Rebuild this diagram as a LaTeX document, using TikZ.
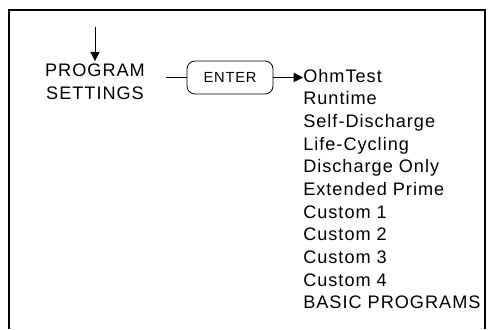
\documentclass[tikz,border=0pt]{standalone}
\usepackage{fontspec}
\setmainfont[LetterSpace=5.5]{Liberation Sans}
\usetikzlibrary{arrows.meta}
\begin{document}
\begin{tikzpicture}[x=0.75pt, y=-0.75pt, >={Triangle[length=7pt, width=7pt]}, font=\fontsize{13.6}{17.3}\selectfont]
\useasboundingbox (0, 0) rectangle (488, 329);
\draw [line width=1pt] (9, 329) -- (9, 10) -- (485, 10) -- (485, 329);
\coordinate (top) at (95, 27);
\node (prog) at (95, 82) [align=center, inner sep=2pt] {PROGRAM\\SETTINGS};
\node (enter) at (230, 77.5) [draw, rounded corners=6pt, minimum width=64.5pt, minimum height=24.75pt, line width=0.6pt, font=\fontsize{11}{13}\selectfont] {ENTER};
\node (ohm) at (303, 82) [anchor=base west, inner sep=0pt] {OhmTest};
\node (run) at (303, 104.7) [anchor=base west, inner sep=0pt] {Runtime};
\node (self) at (303, 127.4) [anchor=base west, inner sep=0pt] {Self-Discharge};
\node (life) at (303, 150) [anchor=base west, inner sep=0pt] {Life-Cycling};
\node (donly) at (303, 172.7) [anchor=base west, inner sep=0pt] {Discharge Only};
\node (prime) at (303, 195.4) [anchor=base west, inner sep=0pt] {Extended Prime};
\node (cust1) at (303, 218) [anchor=base west, inner sep=0pt] {Custom 1};
\node (cust2) at (303, 240.7) [anchor=base west, inner sep=0pt] {Custom 2};
\node (cust3) at (303, 263.4) [anchor=base west, inner sep=0pt] {Custom 3};
\node (cust4) at (303, 286) [anchor=base west, inner sep=0pt] {Custom 4};
\node (basic) at (303, 308.7) [anchor=base west, inner sep=0pt] {BASIC PROGRAMS};
\draw [->, line width=0.75pt] (top) -- (prog.north);
\draw [line width=0.6pt] (enter.west) -- ++(-21, 0);
\draw [->, line width=0.6pt] (enter.east) -- (ohm.west |- enter.east);
\end{tikzpicture}
\end{document}
